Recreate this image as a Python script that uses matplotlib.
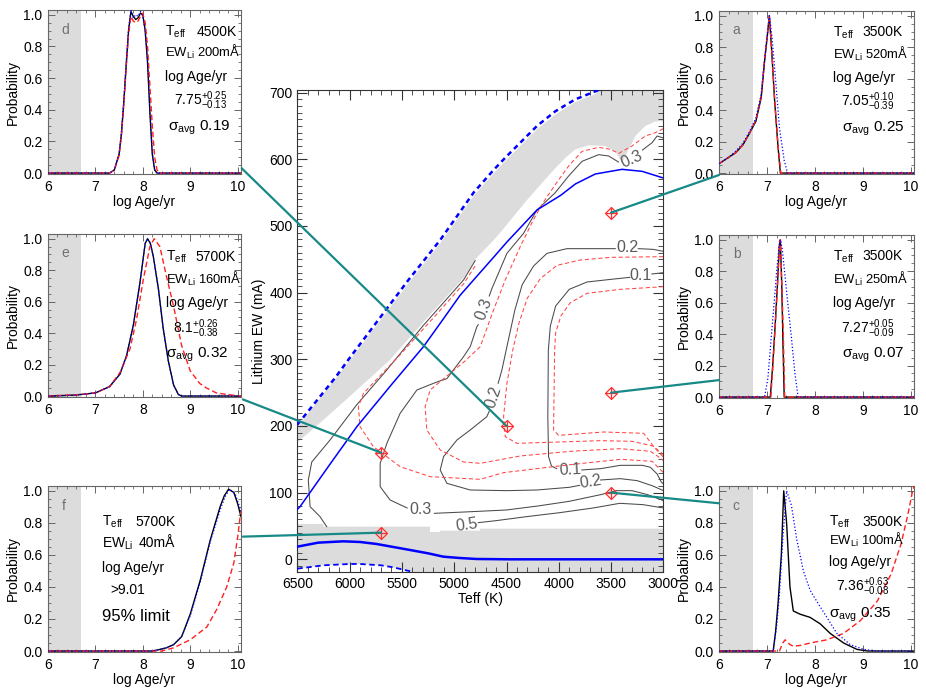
import matplotlib.pyplot as plt
from matplotlib.patches import ConnectionPatch, Polygon
from matplotlib.ticker import MultipleLocator

plt.rcParams['font.family'] = ['Liberation Sans', 'DejaVu Sans']
plt.rcParams['mathtext.fontset'] = 'custom'
plt.rcParams['mathtext.rm'] = 'Liberation Sans'
plt.rcParams['mathtext.it'] = 'Liberation Sans:italic'
plt.rcParams['mathtext.bf'] = 'Liberation Sans:bold'

# ---------------- the six example stars ----------------
star_letter = ['a', 'b', 'c', 'd', 'e', 'f']
star_teff = [3500, 3500, 3500, 4500, 5700, 5700]
star_ew = [520, 250, 100, 200, 160, 40]
age_best = ['7.05', '7.27', '7.36', '7.75', '8.1', '>9.01']
age_plus = ['+0.10', '+0.05', '+0.63', '+0.25', '+0.26', None]
age_minus = ['-0.39', '-0.09', '-0.08', '-0.13', '-0.38', None]
sigma_avg = ['0.25', '0.07', '0.35', '0.19', '0.32', None]

# probability curves (log age, probability): black solid, red dashed, blue dotted
black_a_x = [6.0, 6.2, 6.35, 6.5, 6.63, 6.77, 6.88, 6.95, 7.0, 7.05, 7.1, 7.16, 7.23, 7.28, 7.35, 10.07]
black_a_y = [0.06, 0.1, 0.13, 0.18, 0.25, 0.33, 0.48, 0.71, 0.85, 1.0, 0.77, 0.46, 0.17, 0.0, 0.0, 0.0]
red_a_x = [6.0, 6.2, 6.35, 6.5, 6.63, 6.77, 6.88, 6.95, 7.05, 7.1, 7.16, 7.23, 7.29, 7.35, 10.07]
red_a_y = [0.06, 0.1, 0.13, 0.18, 0.25, 0.34, 0.49, 0.72, 1.0, 0.78, 0.47, 0.18, 0.0, 0.0, 0.0]
blue_a_x = [6.0, 6.2, 6.35, 6.5, 6.63, 6.77, 6.88, 6.95, 7.05, 7.1, 7.16, 7.26, 7.36, 7.43, 10.07]
blue_a_y = [0.06, 0.1, 0.14, 0.19, 0.26, 0.35, 0.5, 0.72, 1.0, 0.88, 0.67, 0.29, 0.08, 0.0, 0.0]

black_b_x = [6.0, 7.07, 7.12, 7.17, 7.22, 7.26, 7.28, 7.31, 7.33, 7.36, 10.07]
black_b_y = [0.0, 0.0, 0.2, 0.45, 0.72, 0.97, 1.0, 0.7, 0.4, 0.0, 0.0]
red_b_x = [6.0, 7.08, 7.12, 7.17, 7.22, 7.26, 7.28, 7.31, 7.34, 7.37, 10.07]
red_b_y = [0.0, 0.0, 0.18, 0.44, 0.71, 0.96, 1.0, 0.72, 0.42, 0.0, 0.0]
blue_b_x = [6.0, 6.95, 7.02, 7.09, 7.15, 7.2, 7.25, 7.28, 7.32, 7.37, 7.44, 7.51, 7.58, 7.65, 10.07]
blue_b_y = [0.0, 0.0, 0.12, 0.38, 0.6, 0.79, 0.95, 1.0, 0.94, 0.79, 0.58, 0.38, 0.16, 0.0, 0.0]

black_c_x = [6.0, 7.13, 7.18, 7.23, 7.3, 7.35, 7.41, 7.48, 7.55, 7.69, 7.9, 8.11, 8.32, 8.6, 8.88, 9.1, 10.07]
black_c_y = [0.0, 0.0, 0.12, 0.29, 0.6, 1.0, 0.8, 0.4, 0.25, 0.23, 0.21, 0.17, 0.11, 0.05, 0.01, 0.0, 0.0]
red_c_x = [6.0, 7.26, 7.33, 7.38, 7.48, 7.55, 7.7, 7.9, 8.25, 8.6, 8.95, 9.3, 9.59, 9.8, 9.94, 10.04, 10.07]
red_c_y = [0.0, 0.0, 0.05, 0.07, 0.04, 0.03, 0.035, 0.05, 0.07, 0.11, 0.19, 0.31, 0.48, 0.67, 0.85, 1.0, 1.03]
blue_c_x = [6.0, 7.13, 7.2, 7.26, 7.33, 7.41, 7.51, 7.62, 7.76, 7.9, 8.04, 8.25, 8.46, 8.74, 9.02, 9.3, 10.07]
blue_c_y = [0.0, 0.0, 0.15, 0.35, 0.7, 1.0, 0.91, 0.7, 0.5, 0.38, 0.31, 0.21, 0.11, 0.04, 0.01, 0.0, 0.0]

black_d_x = [6.0, 7.3, 7.4, 7.5, 7.55, 7.6, 7.65, 7.7, 7.75, 7.8, 7.85, 7.9, 7.95, 8.0, 8.05, 8.1, 8.15, 8.2, 8.25, 8.3, 10.07]
black_d_y = [0.0, 0.0, 0.02, 0.12, 0.25, 0.45, 0.68, 0.9, 1.02, 0.99, 0.97, 0.98, 1.01, 1.0, 0.9, 0.7, 0.38, 0.12, 0.02, 0.0, 0.0]
red_d_x = [6.0, 7.3, 7.4, 7.5, 7.55, 7.6, 7.65, 7.7, 7.75, 7.8, 7.85, 7.9, 7.95, 8.0, 8.05, 8.1, 8.15, 8.2, 8.25, 8.3, 8.35, 10.07]
red_d_y = [0.0, 0.0, 0.02, 0.11, 0.24, 0.44, 0.67, 0.88, 0.99, 0.96, 0.95, 0.96, 0.99, 1.01, 0.95, 0.8, 0.55, 0.3, 0.1, 0.02, 0.0, 0.0]
blue_d_x = [6.0, 7.3, 7.4, 7.5, 7.55, 7.6, 7.65, 7.7, 7.75, 7.8, 7.85, 7.9, 7.95, 8.0, 8.05, 8.1, 8.15, 8.2, 8.25, 8.3, 10.07]
blue_d_y = [0.0, 0.0, 0.02, 0.12, 0.26, 0.46, 0.7, 0.91, 1.03, 0.98, 1.0, 0.99, 1.02, 0.99, 0.9, 0.71, 0.4, 0.13, 0.02, 0.0, 0.0]

black_e_x = [6.0, 6.5, 6.7, 7.0, 7.3, 7.52, 7.66, 7.8, 7.94, 8.05, 8.1, 8.16, 8.22, 8.33, 8.43, 8.54, 8.65, 8.75, 8.82, 10.07]
black_e_y = [0.0, 0.005, 0.01, 0.02, 0.06, 0.14, 0.26, 0.45, 0.72, 0.97, 1.0, 0.97, 0.89, 0.68, 0.43, 0.22, 0.07, 0.01, 0.0, 0.0]
red_e_x = [6.0, 6.7, 7.0, 7.3, 7.52, 7.73, 7.87, 8.01, 8.15, 8.24, 8.36, 8.5, 8.65, 8.82, 9.0, 9.2, 9.35, 9.55, 9.77, 10.07]
red_e_y = [0.0, 0.01, 0.02, 0.06, 0.15, 0.3, 0.49, 0.74, 0.95, 1.0, 0.95, 0.76, 0.57, 0.32, 0.16, 0.08, 0.05, 0.02, 0.01, 0.0]
blue_e_x = [6.0, 6.5, 6.7, 7.0, 7.3, 7.52, 7.66, 7.8, 7.94, 8.05, 8.1, 8.16, 8.22, 8.33, 8.43, 8.54, 8.65, 8.75, 8.83, 10.07]
blue_e_y = [0.0, 0.005, 0.01, 0.02, 0.06, 0.14, 0.26, 0.45, 0.72, 0.97, 1.0, 0.97, 0.89, 0.68, 0.43, 0.22, 0.07, 0.01, 0.0, 0.0]

black_f_x = [6.0, 8.2, 8.36, 8.5, 8.65, 8.82, 9.0, 9.21, 9.42, 9.63, 9.72, 9.81, 9.92, 10.0, 10.07]
black_f_y = [0.0, 0.0, 0.01, 0.02, 0.04, 0.09, 0.23, 0.44, 0.69, 0.9, 0.97, 1.01, 0.99, 0.92, 0.84]
red_f_x = [6.0, 8.4, 8.65, 9.0, 9.35, 9.56, 9.77, 9.92, 10.0, 10.07]
red_f_y = [0.0, 0.0, 0.02, 0.07, 0.15, 0.26, 0.4, 0.55, 0.71, 0.88]
blue_f_x = [6.0, 8.2, 8.36, 8.5, 8.65, 8.82, 9.0, 9.21, 9.42, 9.63, 9.73, 9.83, 9.95, 10.03, 10.07]
blue_f_y = [0.0, 0.0, 0.01, 0.02, 0.04, 0.09, 0.22, 0.43, 0.68, 0.88, 0.96, 1.01, 0.98, 0.91, 0.87]

black_curves = [(black_a_x, black_a_y), (black_b_x, black_b_y), (black_c_x, black_c_y),
                (black_d_x, black_d_y), (black_e_x, black_e_y), (black_f_x, black_f_y)]
red_curves = [(red_a_x, red_a_y), (red_b_x, red_b_y), (red_c_x, red_c_y),
              (red_d_x, red_d_y), (red_e_x, red_e_y), (red_f_x, red_f_y)]
blue_curves = [(blue_a_x, blue_a_y), (blue_b_x, blue_b_y), (blue_c_x, blue_c_y),
               (blue_d_x, blue_d_y), (blue_e_x, blue_e_y), (blue_f_x, blue_f_y)]

# ---------------- central panel: Teff (K), EW (mA) ----------------
blue_fit = [(6500, 75), (6474, 79), (6200, 140), (5931, 199), (5600, 262), (5294, 319), (5134, 354),
            (4944, 396), (4815, 419), (4624, 453), (4496, 476), (4209, 524), (3982, 546), (3842, 563),
            (3651, 578), (3395, 585), (3204, 582), (3000, 572)]
blue_fit_hi = [(6500, 202), (6140, 272), (6000, 302), (5438, 419), (5134, 479), (4815, 550), (4624, 584),
               (4496, 605), (4209, 650), (4034, 672), (3842, 690), (3651, 702), (3580, 706)]
blue_low = [(6500, 19), (6300, 25), (6060, 27), (5900, 26), (5742, 23), (5600, 19), (5423, 14), (5250, 9),
            (5105, 4), (4950, 2), (4786, 0.5), (4468, 0), (3000, 0)]
blue_low_lo = [(6500, -14), (6250, -9), (5997, -7), (5901, -7), (5700, -9), (5583, -12), (5392, -19)]

grey_band_top = [(6500, 198), (6000, 298), (5438, 414), (5134, 474), (4815, 545), (4624, 579), (4496, 600),
                 (4209, 645), (4034, 667), (3842, 686), (3651, 698), (3600, 706), (3000, 706)]
grey_band_bottom = [(6500, 175), (6474, 179), (6251, 209), (5931, 254), (5615, 299), (5300, 355), (4911, 422),
                    (4799, 450), (4592, 484), (4304, 539), (4050, 584), (3938, 602), (3842, 615), (3715, 621),
                    (3555, 620), (3460, 612), (3395, 595), (3347, 610), (3268, 635), (3172, 650), (3077, 657),
                    (3000, 657)]
grey_floor_top = [(6500, 53), (6252, 53), (6252, 49), (5232, 49), (5232, 41), (5137, 41), (5137, 43),
                  (4755, 43), (4755, 46), (3000, 46)]

# black contours (broken where their labels sit)
k03_edge = [(6219, 49), (6283, 64), (6378, 79), (6395, 119), (6362, 146), (6187, 179), (5931, 232),
            (5650, 283), (5300, 350), (4911, 419), (4800, 448)]
k03_top = [(3000, 632), (3060, 635), (3108, 625), (3200, 614)]
k03_upper = [(3430, 596), (3523, 605), (3619, 607), (3778, 597), (3906, 575), (4034, 550), (4209, 524),
             (4337, 489), (4496, 459), (4640, 406), (4665, 395)]
k03_mid = [(4770, 352), (4783, 349), (4847, 319), (4911, 304), (5070, 271), (5166, 266), (5357, 254),
           (5517, 219), (5644, 174), (5708, 144), (5708, 109), (5613, 89), (5450, 77)]
k03_bottom = [(5190, 69), (4900, 71), (4500, 74), (4200, 80), (3900, 87), (3600, 97), (3450, 103),
              (3300, 103), (3150, 97), (3000, 88)]
k02_top = [(3000, 462), (3100, 465), (3240, 466)]
k02_upper = [(3460, 466), (3667, 466), (3922, 466), (4113, 459), (4241, 440), (4350, 412), (4420, 374),
             (4496, 319), (4544, 284), (4580, 264)]
k02_lower = [(4666, 222), (4688, 214), (4847, 194), (4974, 179), (5102, 154), (5134, 134), (5070, 114),
             (4847, 104), (4500, 103), (4208, 104), (3900, 108), (3800, 111)]
k02_end = [(3600, 119), (3411, 121), (3250, 118), (3100, 110), (3000, 103)]
k01_top = [(3000, 430), (3110, 428)]
k01_main = [(3320, 423), (3500, 420), (3730, 416), (3900, 405), (4030, 380), (4081, 350), (4100, 314),
            (4105, 214), (4098, 154), (4070, 140), (4020, 136)]
k01_end = [(3780, 134), (3600, 136), (3411, 141), (3200, 141), (3124, 138), (3060, 128), (3020, 116), (3000, 113)]
k05 = [(4770, 55), (4600, 58), (4309, 64), (3990, 70), (3672, 77), (3417, 84), (3194, 82), (3000, 77)]
black_contours = [k03_edge, k03_top, k03_upper, k03_mid, k03_bottom, k02_top, k02_upper, k02_lower,
                  k02_end, k01_top, k01_main, k01_end, k05]

# red dashed contours
r03_edge = [(4800, 440), (4911, 413), (5166, 368), (5517, 307), (5868, 249), (5916, 229), (5900, 199),
            (5773, 169), (5517, 139), (5230, 124), (4751, 120), (4528, 130), (3890, 142), (3411, 150),
            (3108, 147), (3012, 132), (3000, 130)]
r03 = [(3000, 646), (3077, 640), (3172, 635), (3300, 620), (3427, 609), (3507, 615), (3619, 618), (3778, 612),
       (3906, 590), (4034, 562), (4150, 535), (4241, 510), (4369, 469), (4512, 419), (4624, 374), (4751, 319),
       (4900, 297), (5039, 279), (5230, 254), (5278, 229), (5262, 194), (5134, 164), (4911, 146), (4751, 144),
       (4369, 155), (3890, 162), (3411, 166), (3124, 162), (3012, 150), (3000, 148)]
r02 = [(3000, 454), (3500, 453), (3794, 449), (4017, 441), (4177, 421), (4300, 392), (4380, 355), (4440, 314),
       (4496, 264), (4528, 214), (4512, 184), (4400, 174), (4000, 176), (3600, 178), (3300, 177), (3100, 170),
       (3010, 155), (3000, 152)]
r01 = [(3000, 409), (3411, 405), (3730, 399), (3890, 385), (3980, 365), (4030, 340), (4040, 314), (4050, 194),
       (4002, 186), (3571, 191), (3188, 189), (3093, 169), (3012, 159), (3000, 156)]
red_contours = [r03_edge, r03, r02, r01]

# contour labels: text, Teff, EW, rotation
contour_labels = [('0.3', 3306, 600, 24), ('0.2', 3348, 467, 0), ('0.1', 3215, 426, 0),
                  ('0.3', 4718, 376, 70), ('0.2', 4622, 243, 72), ('0.1', 3895, 134, 3),
                  ('0.2', 3700, 116, 9), ('0.3', 5322, 74, 0), ('0.5', 4880, 52, 8)]

teal = '#178a87'
grey = '#dcdcdc'
kcol = '#4a4a4a'
rcol = '#ff4545'


def xy(points):
    return [p[0] for p in points], [p[1] for p in points]


fig = plt.figure(figsize=(9.26, 6.95), dpi=100)

# ---------------- central panel ----------------
ax = fig.add_axes([0.3211, 0.1770, 0.3953, 0.6935])
ax.set_xlim(6500, 3000)
ax.set_ylim(-19, 704)

ax.add_patch(Polygon(grey_band_top + grey_band_bottom[::-1], closed=True, fc=grey, ec='none', zorder=1))
floor = grey_floor_top + [(3000, -19)] + blue_low_lo[::-1]
ax.add_patch(Polygon(floor, closed=True, fc=grey, ec='none', zorder=1))

for seg in black_contours:
    ax.plot(*xy(seg), color=kcol, lw=0.75, zorder=3)
for seg in red_contours:
    ax.plot(*xy(seg), color=rcol, lw=0.75, dashes=(4, 2.5), zorder=3)
for txt, t, e, rot in contour_labels:
    ax.text(t, e, txt, color='#5a5a5a', fontsize=11.5, rotation=rot, ha='center', va='center', zorder=4)

ax.plot(*xy(blue_fit), color='#0000ff', lw=1.1, zorder=4)
ax.plot(*xy(blue_fit_hi), color='#0000ff', lw=1.8, dashes=(2, 1.6), zorder=4)
ax.plot(*xy(blue_low), color='#0000ff', lw=1.8, zorder=4)
ax.plot(*xy(blue_low_lo), color='#0000ff', lw=1.3, dashes=(3, 2), zorder=4)

ax.plot(star_teff, star_ew, ls='none', marker='D', ms=6.2, mfc='none', mec='#ff3030', mew=0.9, zorder=6)
ax.plot(star_teff, star_ew, ls='none', marker='+', ms=8.6, mec='#ff3030', mew=0.9, zorder=6)

ax.xaxis.set_major_locator(MultipleLocator(500))
ax.xaxis.set_minor_locator(MultipleLocator(100))
ax.yaxis.set_major_locator(MultipleLocator(100))
ax.yaxis.set_minor_locator(MultipleLocator(10))
ax.tick_params(which='both', direction='in', top=True, right=True, labelsize=10, color='#333333')
ax.tick_params(which='major', length=7, width=0.8)
ax.tick_params(which='minor', length=3.5, width=0.6)
ax.set_xlabel('Teff (K)', fontsize=10, labelpad=1)
ax.set_ylabel('Lithium EW (mA)', fontsize=10, labelpad=2)
for s in ax.spines.values():
    s.set_linewidth(0.8)
    s.set_color('#333333')

# ---------------- small panels ----------------
panel_rect = {
    'a': [0.7765, 0.7496, 0.2106, 0.2345], 'b': [0.7765, 0.4273, 0.2106, 0.2345],
    'c': [0.7765, 0.0619, 0.2106, 0.2388], 'd': [0.0518, 0.7496, 0.2084, 0.2360],
    'e': [0.0518, 0.4288, 0.2084, 0.2345], 'f': [0.0518, 0.0619, 0.2084, 0.2388],
}
# text layout: label column x, Teff value x, value alignment, row ys, age x, sigma x
panel_text = {
    'a': (0.583, 0.942, 'right', [0.883, 0.75, 0.597, 0.464, 0.294], 0.626, 0.629),
    'b': (0.583, 0.942, 'right', [0.88, 0.744, 0.59, 0.448, 0.284], 0.626, 0.629),
    'c': (0.565, 0.942, 'right', [0.795, 0.685, 0.554, 0.414, 0.243], 0.60, 0.565),
    'd': (0.606, 0.979, 'right', [0.878, 0.756, 0.598, 0.47, 0.30], 0.653, 0.622),
    'e': (0.611, 0.974, 'right', [0.871, 0.734, 0.585, 0.442, 0.278], 0.648, 0.611),
    'f': (0.278, 0.451, 'left', [0.795, 0.664, 0.514, 0.38, 0.223], 0.321, 0.278),
}
# where the teal connector meets each panel (axes fraction)
link_end = {'a': (0.0, -0.006), 'b': (0.0, 0.11), 'c': (0.0, 0.896),
            'd': (1.004, 0.035), 'e': (1.01, -0.015), 'f': (1.01, 0.695)}
with_xlabel = {'a', 'c', 'd', 'f'}

for i, L in enumerate(star_letter):
    p = fig.add_axes(panel_rect[L])
    p.axvspan(6.0, 6.7, color=grey, lw=0, zorder=0)
    bx, by = black_curves[i]
    rx, ry = red_curves[i]
    ux, uy = blue_curves[i]
    p.plot(bx, by, color='black', lw=1.0, zorder=2)
    p.plot(rx, ry, color='#ff2020', lw=1.0, dashes=(4, 2.2), zorder=3)
    p.plot(ux, uy, color='#0000ff', lw=0.9, ls=':', zorder=4)
    p.set_xlim(6.0, 10.07)
    p.set_ylim(-0.006, 1.03)
    p.xaxis.set_major_locator(MultipleLocator(1))
    p.xaxis.set_minor_locator(MultipleLocator(0.2))
    p.yaxis.set_major_locator(MultipleLocator(0.2))
    p.yaxis.set_minor_locator(MultipleLocator(0.05))
    p.yaxis.set_major_formatter(plt.FormatStrFormatter('%.1f'))
    p.tick_params(which='both', direction='in', top=True, right=True, labelsize=10, color='#666666', pad=4)
    p.tick_params(which='major', length=5, width=0.7)
    p.tick_params(which='minor', length=2.5, width=0.6)
    for s in p.spines.values():
        s.set_linewidth(0.8)
        s.set_color('#666666')
    p.set_ylabel('Probability', fontsize=10, labelpad=2)
    if L in with_xlabel:
        p.set_xlabel('log Age/yr', fontsize=10, labelpad=1)

    xl, xv, ha_v, rows, xa, xs = panel_text[L]
    fs = 10
    p.text(0.07, 0.89, L, transform=p.transAxes, color='#707070', fontsize=10, va='center_baseline')
    p.text(xl, rows[0], r'T$_{\rm eff}$', transform=p.transAxes, fontsize=fs, va='center_baseline')
    p.text(xv, rows[0], f'{star_teff[i]}K', transform=p.transAxes, fontsize=fs, ha=ha_v,
           va='center_baseline')
    if ha_v == 'left':
        p.text(xl, rows[1], r'EW$_{\rm Li}$', transform=p.transAxes, fontsize=fs, va='center_baseline')
        p.text(xv + 0.017, rows[1], f'{star_ew[i]}mÅ', transform=p.transAxes, fontsize=fs,
               va='center_baseline')
    else:
        p.text(xl, rows[1], r'EW$_{\rm Li}$' + f' {star_ew[i]}mÅ', transform=p.transAxes,
               fontsize=fs - 0.6, va='center_baseline')
    p.text(xl, rows[2], 'log Age/yr', transform=p.transAxes, fontsize=fs, va='center_baseline')
    if age_plus[i] is not None:
        age_txt = age_best[i] + r'$^{' + age_plus[i] + r'}_{' + age_minus[i] + r'}$'
        p.text(xa, rows[3], age_txt, transform=p.transAxes, fontsize=fs, va='center_baseline')
        p.text(xs, rows[4], 'σ' + r'$_{\rm avg}$ ' + sigma_avg[i], transform=p.transAxes,
               fontsize=fs + 1, va='center_baseline')
    else:
        p.text(xa, rows[3], age_best[i], transform=p.transAxes, fontsize=fs, va='center_baseline')
        p.text(xs, rows[4], '95% limit', transform=p.transAxes, fontsize=fs + 2, va='center_baseline')

    con = ConnectionPatch(xyA=(star_teff[i], star_ew[i]), coordsA=ax.transData,
                          xyB=link_end[L], coordsB=p.transAxes, color=teal, lw=1.6, zorder=10)
    fig.add_artist(con)

fig.savefig('out.png', dpi=100)
